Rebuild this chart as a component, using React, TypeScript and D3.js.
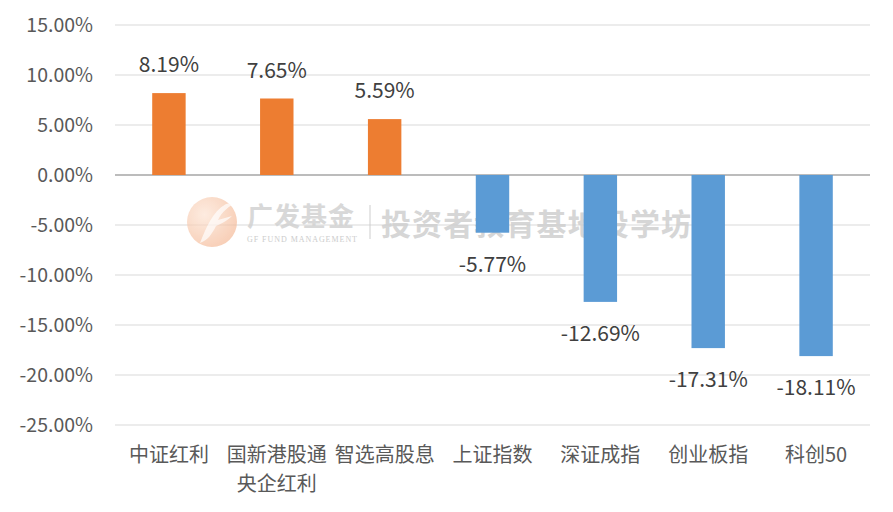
import { useEffect } from 'react';
import * as d3 from 'd3';

const categories = ['中证红利', '国新港股通\n央企红利', '智选高股息', '上证指数', '深证成指', '创业板指', '科创50'];
const returns = [8.19, 7.65, 5.59, -5.77, -12.69, -17.31, -18.11];
const yTicks = [15, 10, 5, 0, -5, -10, -15, -20, -25];

const W = 893;
const H = 512;
const FONT = '"Noto Sans CJK SC", "Noto Sans", sans-serif';

// hyphen minus like the source, not the unicode minus d3 uses
const pct = (v: number) => d3.format('.2f')(v).replace('−', '-') + '%';

export default function App() {
  useEffect(() => {
    document.body.style.margin = '0';
  }, []);

  const margin = { top: 25, right: 23, bottom: 87, left: 115 };
  const x = d3
    .scaleBand()
    .domain(categories)
    .range([margin.left, W - margin.right])
    .paddingInner(0.69)
    .paddingOuter(0.345);
  const y = d3.scaleLinear().domain([-25, 15]).range([H - margin.bottom, margin.top]);
  const band = d3.scaleBand().domain(categories).range([margin.left, W - margin.right]);

  return (
    <svg width={W} height={H} style={{ display: 'block', background: '#fff' }} fontFamily={FONT}>
      <defs>
        <radialGradient id="logoGrad" cx="0.35" cy="0.35" r="0.75">
          <stop offset="0%" stopColor="#fde3d2" />
          <stop offset="100%" stopColor="#f4b692" />
        </radialGradient>
      </defs>

      {/* gridlines */}
      {yTicks.map((t) => (
        <line
          key={t}
          x1={margin.left}
          x2={W - margin.right}
          y1={y(t)}
          y2={y(t)}
          stroke={t === 0 ? '#a6a6a6' : '#d9d9d9'}
          strokeWidth={t === 0 ? 1.5 : 1.2}
        />
      ))}

      {/* y tick labels */}
      {yTicks.map((t) => (
        <text
          key={'l' + t}
          x={93}
          y={y(t)}
          dy="0.36em"
          textAnchor="end"
          fontSize={19.5}
          fill="#595959"
        >
          {pct(t)}
        </text>
      ))}

      {/* watermark */}
      <g opacity={0.85}>
        <circle cx={212} cy={222} r={25} fill="url(#logoGrad)" opacity={0.8} />
        <path
          d="M200,243 C206,228 212,212 226,204 L240,201 C228,206 222,212 218,220 L232,216 C226,222 220,224 216,226 C212,234 208,240 200,243 Z"
          fill="#fff"
          opacity={0.7}
        />
        <text x={247} y={226} fontSize={26} fontWeight="bold" fill="#d2d2d2" letterSpacing={1}>
          广发基金
        </text>
        <text x={247} y={242} fontSize={8} fill="#c4c4c4" fontFamily='"Liberation Serif", serif' textLength={110}>
          GF FUND MANAGEMENT
        </text>
        <line x1={370} x2={370} y1={205} y2={239} stroke="#cfcfcf" strokeWidth={1.2} />
        <text x={381} y={235} fontSize={30} fontWeight="bold" fill="#cfcfcf" textLength={310}>
          投资者教育基地投学坊
        </text>
      </g>

      {/* bars */}
      {categories.map((c, i) => {
        const v = returns[i];
        return (
          <rect
            key={c}
            x={x(c)}
            width={x.bandwidth()}
            y={Math.min(y(v), y(0))}
            height={Math.abs(y(v) - y(0))}
            fill={v >= 0 ? '#ED7D31' : '#5B9BD5'}
          />
        );
      })}

      {/* data labels */}
      {categories.map((c, i) => {
        const v = returns[i];
        const cx = (x(c) as number) + x.bandwidth() / 2;
        return (
          <text
            key={'d' + c}
            x={cx}
            y={v >= 0 ? y(v) - 21 : y(v) + 39}
            textAnchor="middle"
            fontSize={21}
            fill="#404040"
          >
            {pct(v)}
          </text>
        );
      })}

      {/* category labels */}
      {categories.map((c) => {
        const cx = (band(c) as number) + band.bandwidth() / 2;
        return (
          <text key={'c' + c} x={cx} y={462} textAnchor="middle" fontSize={20} fill="#595959">
            {c.split('\n').map((line, j) => (
              <tspan key={j} x={cx} dy={j === 0 ? 0 : 29}>
                {line}
              </tspan>
            ))}
          </text>
        );
      })}
    </svg>
  );
}
